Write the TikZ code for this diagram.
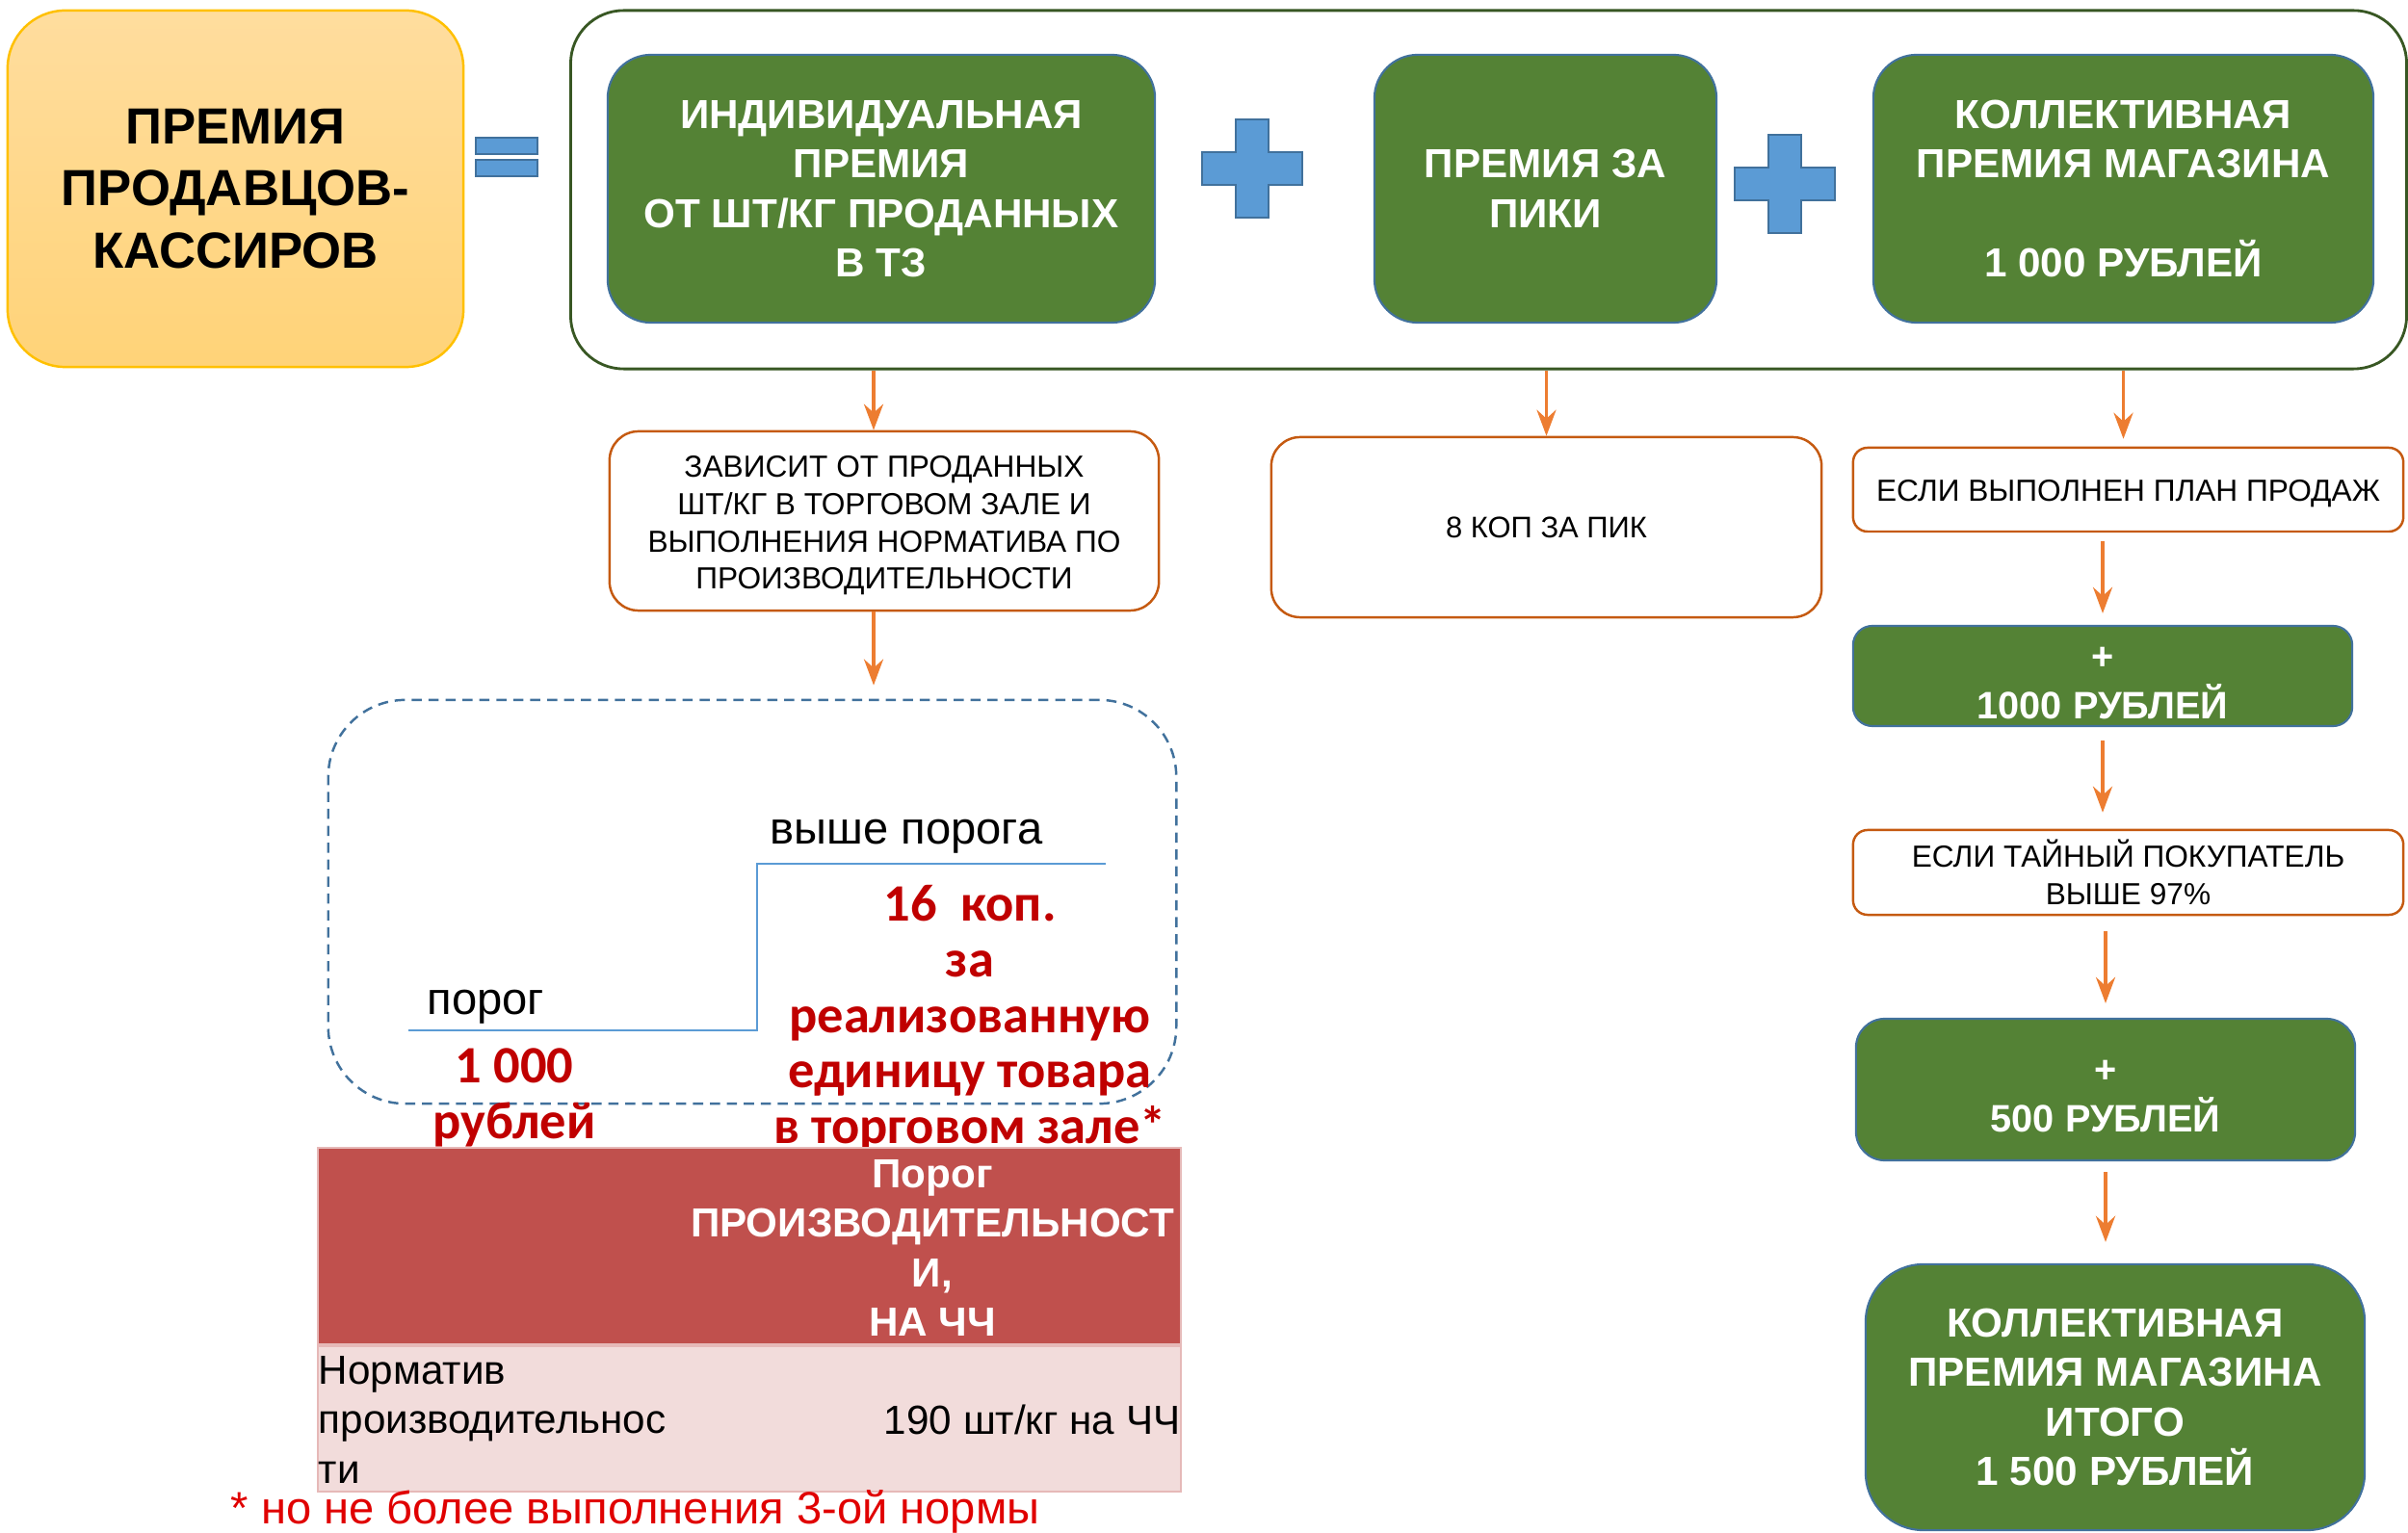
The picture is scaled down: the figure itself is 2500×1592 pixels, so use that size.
\documentclass[tikz,border=0pt]{standalone}
\usepackage{fontspec}
\setmainfont{Liberation Sans}
\newfontfamily\calfont{Carlito}
\usetikzlibrary{arrows.meta}

\definecolor{yellowtop}{HTML}{FFDD9E}
\definecolor{yellowbot}{HTML}{FFD378}
\definecolor{yellowline}{HTML}{FFC000}
\definecolor{greenfill}{HTML}{548235}
\definecolor{blueline}{HTML}{41719C}
\definecolor{bluefill}{HTML}{5B9BD5}
\definecolor{darkgreen}{HTML}{385723}
\definecolor{brownline}{HTML}{C55A11}
\definecolor{arrowcol}{HTML}{ED7D31}
\definecolor{redtext}{HTML}{C00000}
\definecolor{notered}{HTML}{E00000}
\definecolor{tablered}{HTML}{C0504D}
\definecolor{tablepink}{HTML}{F2DCDB}
\definecolor{tableline}{HTML}{E6B9B8}

\tikzset{
  greenbox/.style={draw=blueline, line width=0.6pt, fill=greenfill, text=white,
    font=\bfseries\fontsize{12}{14.65}\selectfont, align=center, inner sep=0pt},
  notebox/.style={draw=brownline, line width=0.7pt, fill=white, align=center,
    inner sep=0pt, font=\fontsize{9}{11}\selectfont},
  arr/.style={draw=arrowcol, line width=1.1pt,
    -{Stealth[length=0.27cm, width=0.2cm, inset=0.09cm]}},
  crossmark/.style={draw=blueline, fill=bluefill, line width=0.6pt},
  redlabel/.style={text=redtext, align=center, inner sep=0pt,
    font=\calfont\bfseries\fontsize{15.5}{16.4}\selectfont},
  plainlabel/.style={font=\fontsize{13.4}{16}\selectfont, inner sep=0pt},
  tablecell/.style={font=\fontsize{12}{14.65}\selectfont, inner sep=0pt}
}

% blue plus sign, centre x, centre y
\newcommand{\bluecross}[2]{
  \begin{scope}[shift={(#1, #2)}]
    \draw[crossmark] (-17,-51) -- (17,-51) -- (17,-17) -- (52,-17) -- (52,17)
      -- (17,17) -- (17,51) -- (-17,51) -- (-17,17) -- (-52,17) -- (-52,-17)
      -- (-17,-17) -- cycle;
  \end{scope}
}

\begin{document}
\begin{tikzpicture}[x=0.01cm, y=-0.01cm]
\useasboundingbox (0,0) rectangle (2500,1592);

% top row
\node[draw=yellowline, line width=0.7pt, top color=yellowtop, bottom color=yellowbot,
  rounded corners=0.6cm, minimum width=4.73cm, minimum height=3.70cm, inner sep=0pt,
  align=center, font=\bfseries\fontsize{15}{18.4}\selectfont]
  (total) at (244.5,196) {ПРЕМИЯ\\ПРОДАВЦОВ-\\КАССИРОВ};

\draw[crossmark] (494,143) rectangle (558,160);
\draw[crossmark] (494,166) rectangle (558,183);

\node[draw=darkgreen, line width=0.8pt, rounded corners=0.55cm,
  minimum width=19.05cm, minimum height=3.72cm] (sum) at (1545.5,197) {};

\node[greenbox, rounded corners=0.45cm, minimum width=5.68cm, minimum height=2.78cm]
  (ind) at (915,196) {ИНДИВИДУАЛЬНАЯ\\ПРЕМИЯ\\ОТ ШТ/КГ ПРОДАННЫХ\\В ТЗ};
\node[greenbox, rounded corners=0.45cm, minimum width=3.55cm, minimum height=2.78cm]
  (peak) at (1604.5,196) {ПРЕМИЯ ЗА\\ПИКИ};
\node[greenbox, rounded corners=0.45cm, minimum width=5.19cm, minimum height=2.78cm]
  (coll) at (2204.5,196) {КОЛЛЕКТИВНАЯ\\ПРЕМИЯ МАГАЗИНА\\[14.65pt]1 000 РУБЛЕЙ};

\bluecross{1300}{175}
\bluecross{1853}{191}

% second row
\node[notebox, rounded corners=0.3cm, minimum width=5.70cm, minimum height=1.86cm]
  (dep) at (918,541) {\rule{0pt}{9pt}ЗАВИСИТ ОТ ПРОДАННЫХ\\ШТ/КГ В ТОРГОВОМ ЗАЛЕ И\\ВЫПОЛНЕНИЯ НОРМАТИВА ПО\\ПРОИЗВОДИТЕЛЬНОСТИ};
\node[notebox, rounded corners=0.3cm, minimum width=5.71cm, minimum height=1.87cm,
  font=\fontsize{8.8}{10.8}\selectfont]
  (kop) at (1605.5,547.5) {8 КОП ЗА ПИК};
\node[notebox, rounded corners=0.15cm, minimum width=5.71cm, minimum height=0.87cm]
  (plan) at (2209.5,508.5) {\rule{0pt}{8.5pt}ЕСЛИ ВЫПОЛНЕН ПЛАН ПРОДАЖ};

\draw[arr] ([xshift=-0.11cm]sum.south -| dep.north) -- ([xshift=-0.11cm]dep.north);
\draw[arr] (sum.south -| kop.north) -- (kop.north);
\draw[arr, shorten >=0.08cm] (coll.south |- sum.south) -- (coll.south |- plan.north);

% right column
\node[greenbox, rounded corners=0.2cm, minimum width=5.18cm, minimum height=1.04cm,
  font=\bfseries\fontsize{11.3}{14.5}\selectfont]
  (plus1k) at (2183,702) {\rule{0pt}{11pt}+\\1000 РУБЛЕЙ};
\node[notebox, rounded corners=0.15cm, minimum width=5.71cm, minimum height=0.88cm]
  (shopper) at (2209.5,906) {ЕСЛИ ТАЙНЫЙ ПОКУПАТЕЛЬ\\ВЫШЕ 97\%};
\node[greenbox, rounded corners=0.3cm, minimum width=5.18cm, minimum height=1.47cm,
  font=\bfseries\fontsize{11.3}{14.5}\selectfont]
  (plus500) at (2186,1131.5) {\rule{0pt}{10.5pt}+\\500 РУБЛЕЙ};
\node[greenbox, rounded corners=0.6cm, minimum width=5.18cm, minimum height=2.76cm]
  (final) at (2196,1451) {КОЛЛЕКТИВНАЯ\\ПРЕМИЯ МАГАЗИНА\\ИТОГО\\1 500 РУБЛЕЙ};

\draw[arr, shorten <=0.09cm, shorten >=0.12cm] (plus1k.north |- plan.south) -- (plus1k.north);
\draw[arr, shorten <=0.14cm, shorten >=0.17cm] (plus1k.south) -- (plus1k.south |- shopper.north);
\draw[arr, shorten <=0.16cm, shorten >=0.15cm] (plus500.north |- shopper.south) -- (plus500.north);
\draw[arr, shorten <=0.11cm, shorten >=0.22cm] (plus500.south) -- (plus500.south |- final.north);

% threshold block
\node[draw=blueline, dash pattern=on 3pt off 2pt, line width=0.7pt, rounded corners=0.8cm,
  minimum width=8.80cm, minimum height=4.19cm] (thr) at (781,936.5) {};
\draw[arr, shorten >=0.14cm] ([xshift=-0.11cm]dep.south) -- ([xshift=-0.11cm]dep.south |- thr.north);

\draw[bluefill, line width=0.6pt] (424,1070) -- (786,1070) -- (786,897) -- (1148,897);
\node[plainlabel, anchor=base west] (above) at (799,877) {выше порога};
\node[plainlabel, anchor=base west] (limit) at (443,1054) {порог};
\node[redlabel] (fixed) at (534,1140) {1 000\\рублей};
\node[redlabel] (rate) at (1007,1058) {16~~коп.\\за\\реализованную\\единицу товара\\в торговом зале*};

% table
\draw[tableline, fill=tablered, line width=0.6pt] (330,1192) rectangle (1226,1396);
\draw[tableline, fill=tablepink, line width=0.8pt] (330,1398) rectangle (1226,1549);
\node[tablecell, text=white, font=\bfseries\fontsize{12}{14.65}\selectfont, align=center]
  (headtxt) at (968,1296) {Порог\\ПРОИЗВОДИТЕЛЬНОСТ\\И,\\НА ЧЧ};
\node[tablecell, align=left, anchor=west] (normtxt) at (330,1474) {Норматив\\производительнос\\ти};
\node[tablecell, anchor=east] (normval) at (1226,1474) {190 шт/кг на ЧЧ};

\node[plainlabel, text=notered, anchor=west] (note) at (239,1570) {* но не более выполнения 3-ой нормы};

\end{tikzpicture}
\end{document}
